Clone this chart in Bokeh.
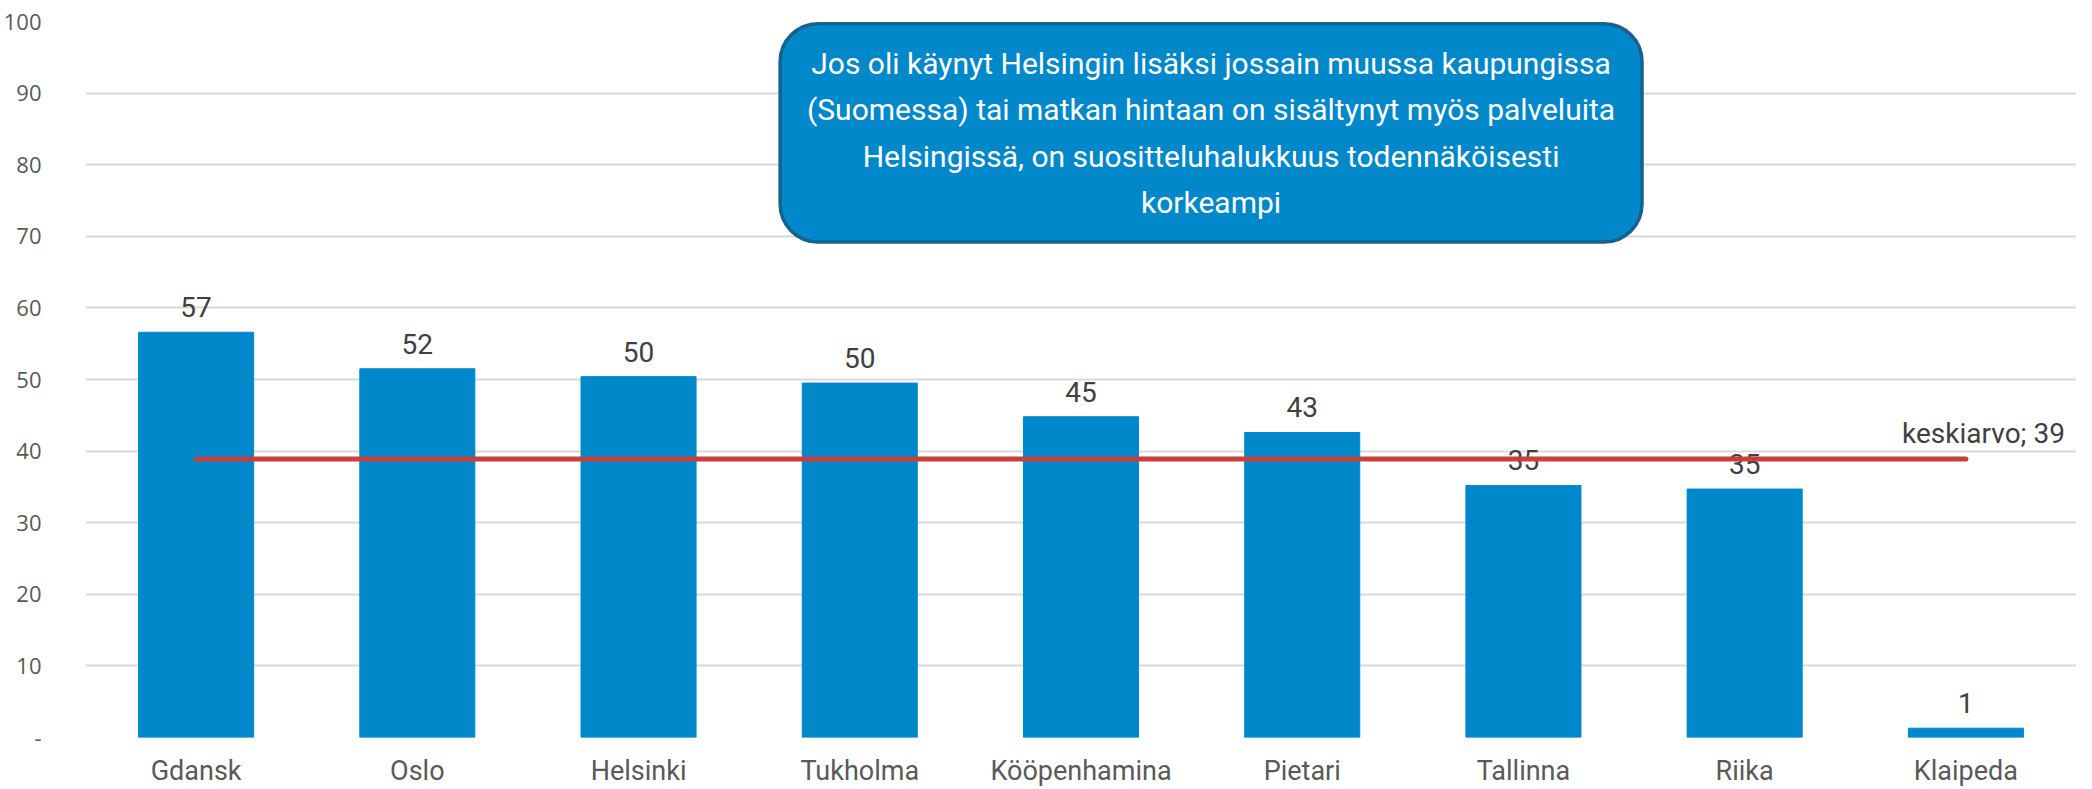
from bokeh.plotting import figure
from bokeh.models import FactorRange, Range1d, FixedTicker, BoxAnnotation
from bokeh.core.properties import value
from bokeh.embed import file_html
from bokeh.resources import INLINE

# ---- data ----
cities = ["Gdansk", "Oslo", "Helsinki", "Tukholma", "Kööpenhamina",
          "Pietari", "Tallinna", "Riika", "Klaipeda"]
scores = [56.6, 51.5, 50.4, 49.5, 44.8, 42.6, 35.2, 34.7, 1.3]
score_labels = ["57", "52", "50", "50", "45", "43", "35", "35", "1"]
average = 38.9
average_label = "keskiarvo;  39"
y_ticks = [0, 10, 20, 30, 40, 50, 60, 70, 80, 90, 100]
y_tick_labels = ["-", "10", "20", "30", "40", "50", "60", "70", "80", "90", "100"]
callout_lines = [
    "Jos oli käynyt Helsingin lisäksi jossain muussa kaupungissa",
    "(Suomessa) tai matkan hintaan on sisältynyt myös palveluita",
    "Helsingissä, on suositteluhalukkuus todennäköisesti",
    "korkeampi",
]

BAR = "#0088CB"
GRID = "#D9D9D9"
TXT = "#404040"
AX = "#595959"
FONT = "Roboto"

p = figure(width=2076, height=789, x_range=FactorRange(*cities, range_padding=0),
           y_range=Range1d(0, 100), output_backend="svg", toolbar_location=None,
           min_border_left=78, min_border_right=0, min_border_top=21, min_border_bottom=52)
p.outline_line_color = None
p.background_fill_color = "white"
p.border_fill_color = "white"

p.xgrid.grid_line_color = None
p.ygrid.grid_line_color = GRID
p.ygrid.grid_line_width = 2
p.yaxis.ticker = FixedTicker(ticks=y_ticks)
p.yaxis.major_label_overrides = {t: l for t, l in zip(y_ticks, y_tick_labels)}
for ax in (p.xaxis, p.yaxis):
    ax.axis_line_color = None
    ax.major_tick_line_color = None
    ax.minor_tick_line_color = None
    ax.major_tick_out = 0
    ax.major_tick_in = 0
    ax.major_label_text_color = AX
p.yaxis.major_label_text_font = "Open Sans"
p.yaxis.major_label_text_font_size = "22px"
p.yaxis.major_label_standoff = 44
p.xaxis.major_label_text_font = FONT
p.xaxis.major_label_text_font_size = "27px"
p.xaxis.major_label_standoff = 17

# callout box (behind text)
box = BoxAnnotation(left=3.14, right=7.036, bottom=69.2, top=99.7,
                    fill_color=BAR, fill_alpha=1.0, line_color="#15628F",
                    line_alpha=1.0, line_width=3.5, border_radius=38,
                    level="underlay")
p.add_layout(box)

p.vbar(x=cities, top=scores, width=0.52, color=BAR)
p.text(x=cities, y=scores, text=score_labels, text_align="center",
       text_baseline="alphabetic", y_offset=-25, text_color=TXT,
       text_font=value(FONT), text_font_size="28px")

p.segment(x0=[cities[0]], x1=[cities[-1]], y0=[average], y1=[average],
          line_color="#C8403A", line_width=5, line_cap="round")
p.text(x=[cities[-1]], y=[average], text=[average_label], text_align="right",
       text_baseline="middle", x_offset=106, y_offset=-25, text_color=TXT,
       text_font=value(FONT), text_font_size="28px")

p.text(x=[5.088], y=[84.45], text=["\n".join(callout_lines)], text_align="center",
       text_baseline="middle", text_color="white", text_font=value(FONT),
       text_font_size="30px", text_line_height=1.33)

open("out.html", "w").write(file_html(p, INLINE))
